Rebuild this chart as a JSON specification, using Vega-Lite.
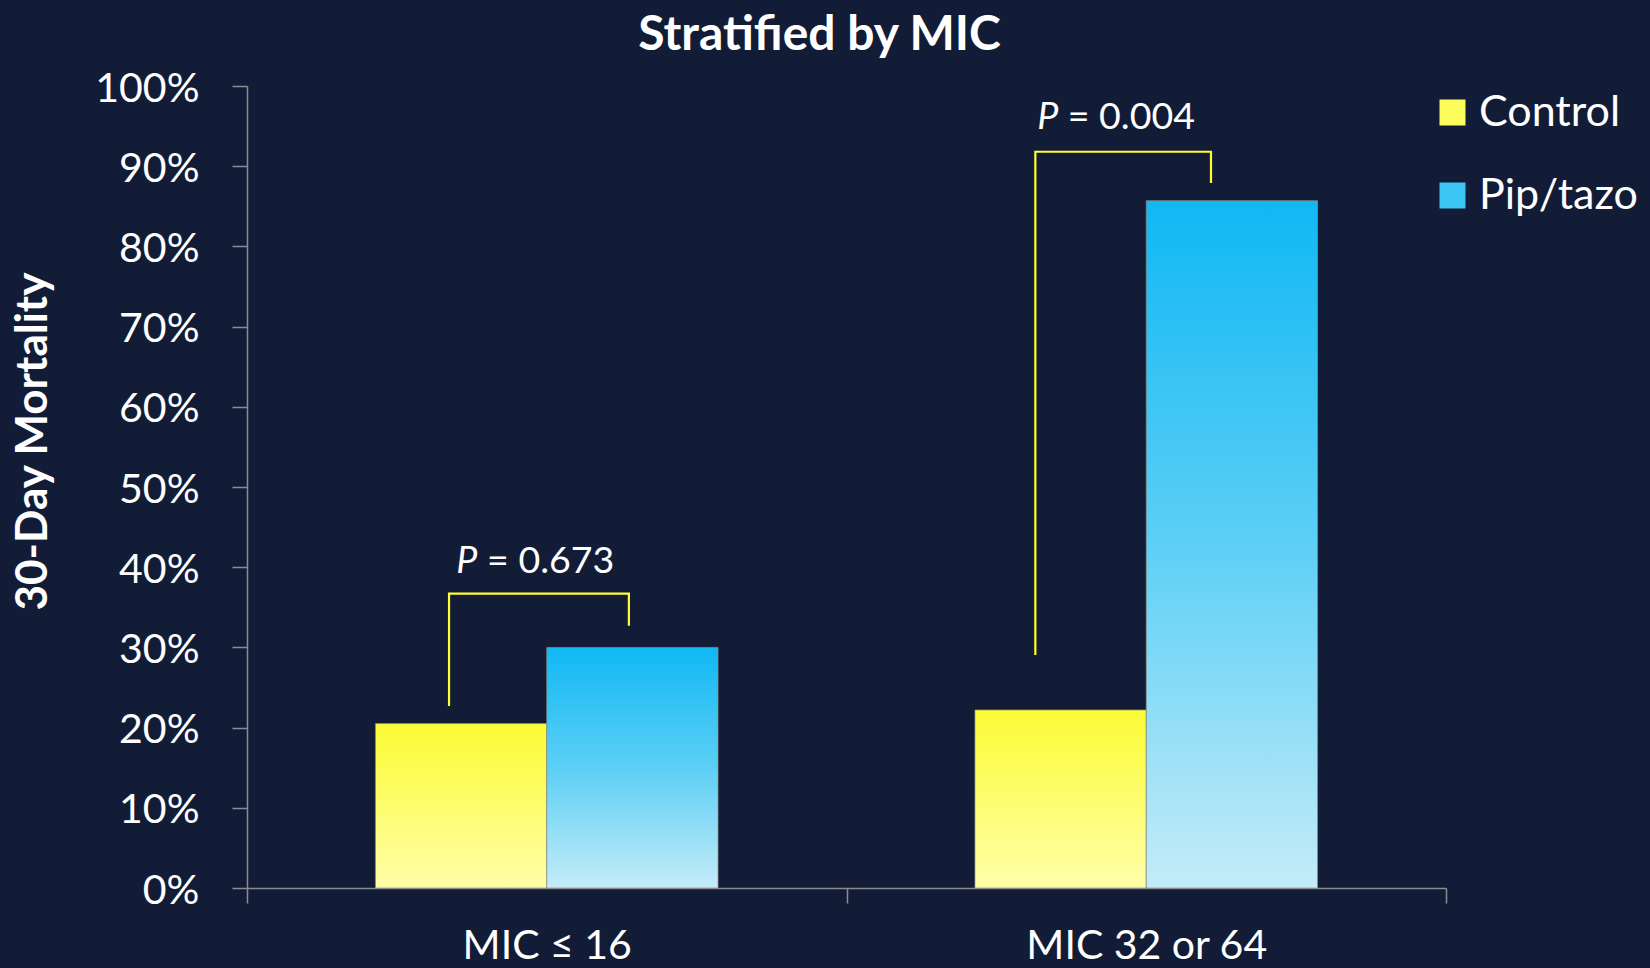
{
  "$schema": "https://vega.github.io/schema/vega-lite/v6.json",
  "width": 1199,
  "height": 802,
  "autosize": "none",
  "padding": {"left": 247, "top": 86, "right": 204, "bottom": 80},
  "background": "#121c37",
  "config": {"view": {"stroke": null}, "font": "Lato"},
  "title": {
    "text": "Stratified by MIC",
    "font": "Lato",
    "fontWeight": "bold",
    "fontSize": 48,
    "color": "#ffffff",
    "anchor": "middle",
    "frame": "group",
    "dx": -27,
    "baseline": "alphabetic",
    "offset": -30
  },
  "datasets": {
    "bars": [
      {"mic": "MIC ≤ 16", "arm": "Control", "value": 0.205},
      {"mic": "MIC ≤ 16", "arm": "Pip/tazo", "value": 0.30},
      {"mic": "MIC 32 or 64", "arm": "Control", "value": 0.222},
      {"mic": "MIC 32 or 64", "arm": "Pip/tazo", "value": 0.857}
    ],
    "brackets": [
      {"pair": "low", "k": 1, "pos": 0.337, "value": 0.227},
      {"pair": "low", "k": 2, "pos": 0.337, "value": 0.367},
      {"pair": "low", "k": 3, "pos": 0.637, "value": 0.367},
      {"pair": "low", "k": 4, "pos": 0.637, "value": 0.327},
      {"pair": "high", "k": 1, "pos": 1.315, "value": 0.2905},
      {"pair": "high", "k": 2, "pos": 1.315, "value": 0.918},
      {"pair": "high", "k": 3, "pos": 1.608, "value": 0.918},
      {"pair": "high", "k": 4, "pos": 1.608, "value": 0.879}
    ],
    "pSymbol": [
      {"pos": 0.349, "value": 0.393, "text": "P"},
      {"pos": 1.318, "value": 0.946, "text": "P"}
    ],
    "pValue": [
      {"pos": 0.4005, "value": 0.393, "text": "= 0.673"},
      {"pos": 1.369, "value": 0.946, "text": "= 0.004"}
    ]
  },
  "encoding": {
    "y": {
      "field": "value",
      "type": "quantitative",
      "scale": {"domain": [0, 1], "nice": false},
      "axis": {
        "title": "30-Day Mortality",
        "format": ".0%",
        "values": [0, 0.1, 0.2, 0.3, 0.4, 0.5, 0.6, 0.7, 0.8, 0.9, 1],
        "grid": false,
        "domainColor": "#8c8c8c",
        "domainWidth": 1.5,
        "tickColor": "#8c8c8c",
        "tickWidth": 1.5,
        "tickSize": 15,
        "labelFont": "Lato",
        "labelFontSize": 41,
        "labelColor": "#ffffff",
        "labelPadding": 33,
        "labelBaseline": "alphabetic",
        "labelOffset": 15,
        "labelOverlap": false,
        "labelFlush": false,
        "titleFont": "Lato",
        "titleFontWeight": "bold",
        "titleFontSize": 44,
        "titleColor": "#ffffff",
        "titleAngle": -90,
        "titleAlign": "center",
        "titleBaseline": "alphabetic",
        "titleX": -201,
        "titleY": 355
      }
    }
  },
  "layer": [
    {
      "data": {"name": "bars"},
      "transform": [{"filter": "datum.arm === 'Control'"}],
      "mark": {
        "type": "bar",
        "stroke": "#8d8d80",
        "strokeWidth": 1,
        "strokeOpacity": 0.7,
        "fill": {"gradient": "linear", "x1": 0, "y1": 0, "x2": 0, "y2": 1,
                 "stops": [{"offset": 0, "color": "#fbfb36"}, {"offset": 0.5, "color": "#fdfd6e"}, {"offset": 1, "color": "#ffffaa"}]}
      },
      "encoding": {
        "x": {
          "field": "mic",
          "type": "nominal",
          "sort": ["MIC ≤ 16", "MIC 32 or 64"],
          "scale": {"domain": ["MIC ≤ 16", "MIC 32 or 64"], "paddingInner": 0, "paddingOuter": 0},
          "axis": {
            "title": null,
            "labelAngle": 0,
            "tickBand": "extent",
            "domainColor": "#8c8c8c",
            "domainWidth": 1.5,
            "tickColor": "#8c8c8c",
            "tickWidth": 1.5,
            "tickSize": 15,
            "labelFont": "Lato",
            "labelFontSize": 41,
            "labelColor": "#ffffff",
            "labelBaseline": "alphabetic",
            "labelPadding": 55,
            "labelLimit": 0
          }
        },
        "xOffset": {
          "field": "arm",
          "type": "nominal",
          "scale": {"domain": ["Control", "Pip/tazo"], "paddingInner": 0, "paddingOuter": 0.75}
        }
      }
    },
    {
      "data": {"name": "bars"},
      "transform": [{"filter": "datum.arm === 'Pip/tazo'"}],
      "mark": {
        "type": "bar",
        "stroke": "#8d8d80",
        "strokeWidth": 1,
        "strokeOpacity": 0.7,
        "fill": {"gradient": "linear", "x1": 0, "y1": 0, "x2": 0, "y2": 1,
                 "stops": [{"offset": 0, "color": "#10b8f4"}, {"offset": 0.5, "color": "#5dcff5"}, {"offset": 1, "color": "#c4ecf8"}]}
      },
      "encoding": {
        "x": {
          "field": "mic",
          "type": "nominal",
          "scale": {"domain": ["MIC ≤ 16", "MIC 32 or 64"], "paddingInner": 0, "paddingOuter": 0},
          "axis": null
        },
        "xOffset": {
          "field": "arm",
          "type": "nominal",
          "scale": {"domain": ["Control", "Pip/tazo"], "paddingInner": 0, "paddingOuter": 0.75}
        }
      }
    },
    {
      "data": {"name": "bars"},
      "mark": {"type": "square", "opacity": 0, "size": 1},
      "encoding": {
        "color": {
          "field": "arm",
          "type": "nominal",
          "scale": {"domain": ["Control", "Pip/tazo"], "range": ["#fcfc5a", "#3cc6f4"]},
          "legend": {
            "title": null,
            "orient": "none",
            "legendX": 1184,
            "legendY": 5,
            "padding": 0,
            "symbolType": "square",
            "symbolSize": 676,
            "symbolStrokeWidth": 0,
            "symbolOpacity": 1,
            "labelFont": "Lato",
            "labelFontSize": 43,
            "labelColor": "#ffffff",
            "labelOffset": 5,
            "rowPadding": 39
          }
        }
      }
    },
    {
      "data": {"name": "brackets"},
      "mark": {"type": "line", "color": "#ffff33", "strokeWidth": 2.2, "strokeJoin": "miter", "strokeCap": "butt"},
      "encoding": {
        "x": {"field": "pos", "type": "quantitative", "scale": {"domain": [0, 2], "nice": false, "zero": false}, "axis": null},
        "detail": {"field": "pair"},
        "order": {"field": "k", "type": "quantitative"}
      }
    },
    {
      "data": {"name": "pSymbol"},
      "mark": {"type": "text", "font": "Lato", "fontStyle": "italic", "fontSize": 37.5, "color": "#ffffff", "align": "left", "baseline": "alphabetic"},
      "encoding": {
        "x": {"field": "pos", "type": "quantitative", "scale": {"domain": [0, 2], "nice": false, "zero": false}, "axis": null},
        "text": {"field": "text"}
      }
    },
    {
      "data": {"name": "pValue"},
      "mark": {"type": "text", "font": "Lato", "fontSize": 37.5, "color": "#ffffff", "align": "left", "baseline": "alphabetic"},
      "encoding": {
        "x": {"field": "pos", "type": "quantitative", "scale": {"domain": [0, 2], "nice": false, "zero": false}, "axis": null},
        "text": {"field": "text"}
      }
    }
  ],
  "resolve": {"scale": {"x": "independent"}, "axis": {"x": "independent"}}
}
